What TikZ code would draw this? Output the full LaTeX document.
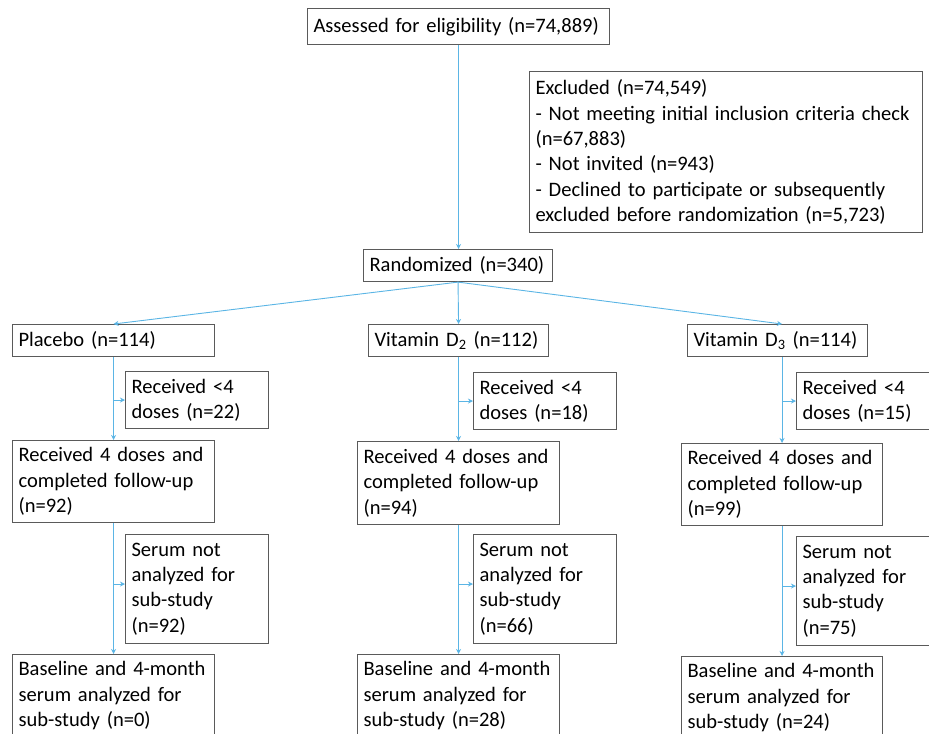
\documentclass[tikz,border=0pt]{standalone}
\usepackage{fontspec}
\setmainfont{Carlito}
\usetikzlibrary{arrows.meta}
\newlength\px \setlength\px{0.75pt}
\definecolor{connc}{HTML}{5BB5E5}
\definecolor{framec}{HTML}{5A5A5A}
\begin{document}
\begin{tikzpicture}[x=0.75pt,y=-0.75pt,
  box/.style={draw=framec, line width=1.1\px, fill=white, anchor=north west,
    align=left, inner xsep=6\px, inner ysep=0pt,
    font=\fontsize{15.4}{19}\selectfont},
  link/.style={draw=connc, line width=0.68pt, -{Stealth[length=3.8pt,width=3.8pt]}}]
\useasboundingbox (0,0) rectangle (929,733);
\clip (0,0) rectangle (929,733);
% top
\node[box, text width=290\px, minimum height=36\px] (assessed) at (307,8)
  {\mbox{Assessed for eligibility (n=74,889)}};
\node[box, text width=381\px, minimum height=161\px] (excluded) at (529,71)
  {\mbox{Excluded (n=74,549)}\\
   \mbox{- Not meeting initial inclusion criteria check}\\
   \mbox{(n=67,883)}\\
   \mbox{- Not invited (n=943)}\\
   \mbox{- Declined to participate or subsequently}\\
   \mbox{excluded before randomization (n=5,723)}};
\node[box, text width=177\px, minimum height=32\px] (rand) at (363,249)
  {\mbox{Randomized (n=340)}};
% arms
\node[box, text width=190\px, minimum height=32\px] (placebo) at (12,324)
  {\mbox{Placebo (n=114)}};
\node[box, text width=168\px, minimum height=32\px] (dtwo) at (368,324)
  {\mbox{Vitamin D\textsubscript{2} (n=112)}};
\node[box, text width=168\px, minimum height=32\px] (dthree) at (687,324)
  {\mbox{Vitamin D\textsubscript{3} (n=114)}};
% received <4
\node[box, text width=131\px, minimum height=57\px] (recA) at (125,371)
  {\mbox{Received <4}\\\mbox{doses (n=22)}};
\node[box, text width=131\px, minimum height=57\px] (recB) at (473,372)
  {\mbox{Received <4}\\\mbox{doses (n=18)}};
\node[box, text width=131\px, minimum height=57\px] (recC) at (796,372)
  {\mbox{Received <4}\\\mbox{doses (n=15)}};
% received 4 doses
\node[box, text width=190\px, minimum height=82\px] (fourA) at (12,440)
  {\mbox{Received 4 doses and}\\\mbox{completed follow-up}\\\mbox{(n=92)}};
\node[box, text width=190\px, minimum height=83\px] (fourB) at (357,441)
  {\mbox{Received 4 doses and}\\\mbox{completed follow-up}\\\mbox{(n=94)}};
\node[box, text width=189\px, minimum height=82\px] (fourC) at (681,443)
  {\mbox{Received 4 doses and}\\\mbox{completed follow-up}\\\mbox{(n=99)}};
% serum not analyzed
\node[box, text width=131\px, minimum height=109\px] (serA) at (125,534)
  {\mbox{Serum not}\\\mbox{analyzed for}\\\mbox{sub-study}\\\mbox{(n=92)}};
\node[box, text width=131\px, minimum height=109\px] (serB) at (473,534)
  {\mbox{Serum not}\\\mbox{analyzed for}\\\mbox{sub-study}\\\mbox{(n=66)}};
\node[box, text width=131\px, minimum height=109\px] (serC) at (796,536)
  {\mbox{Serum not}\\\mbox{analyzed for}\\\mbox{sub-study}\\\mbox{(n=75)}};
% baseline
\node[box, text width=190\px, minimum height=82\px] (baseA) at (12,654)
  {\mbox{Baseline and 4-month}\\\mbox{serum analyzed for}\\\mbox{sub-study (n=0)}};
\node[box, text width=190\px, minimum height=82\px] (baseB) at (357,654)
  {\mbox{Baseline and 4-month}\\\mbox{serum analyzed for}\\\mbox{sub-study (n=28)}};
\node[box, text width=189\px, minimum height=82\px] (baseC) at (681,656)
  {\mbox{Baseline and 4-month}\\\mbox{serum analyzed for}\\\mbox{sub-study (n=24)}};
% connectors
\draw[link] (assessed.south) -- (assessed.south |- rand.north);
\draw[link] (rand.south) -- (fourA.north |- placebo.north);
\draw[link] (rand.south) -- (fourB.north |- dtwo.north);
\draw[link] (rand.south) -- (fourC.north |- dthree.north);
\foreach \c/\a/\r/\f/\s/\b in {A/placebo/recA/fourA/serA/baseA,
                                B/dtwo/recB/fourB/serB/baseB,
                                C/dthree/recC/fourC/serC/baseC}{
  \draw[link] (\f.north |- \a.south) -- (\f.north);
  \draw[link] (\f.north |- \r.west) -- (\r.west);
  \draw[link] (\f.south) -- (\b.north);
  \coordinate (sw\c) at ([yshift=3.75pt]\s.west);
  \draw[link] (\f.south |- sw\c) -- (sw\c);
}
\end{tikzpicture}
\end{document}
